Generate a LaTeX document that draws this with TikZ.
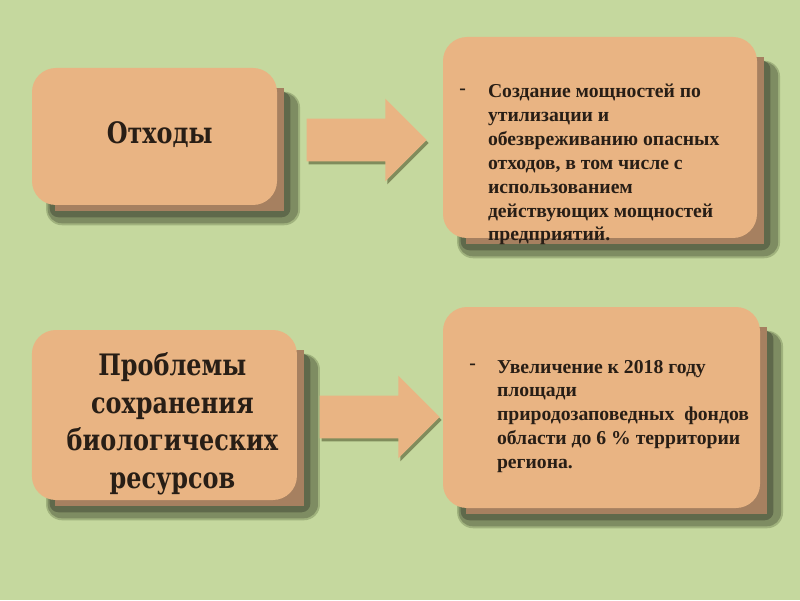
\documentclass[tikz,border=0pt]{standalone}
\usepackage{fontspec}
\setmainfont{Liberation Serif}
\newfontfamily\titlefont[FakeStretch=0.81]{DejaVu Serif}
\usetikzlibrary{shapes.arrows, positioning, calc, backgrounds, shadows}

\definecolor{bgGreen}{RGB}{197,216,158}
\definecolor{boxOrange}{RGB}{233,180,131}
\definecolor{boxBrown}{RGB}{166,128,96}
\definecolor{shadeDark}{RGB}{95,105,75}
\definecolor{shadeMid}{RGB}{126,140,98}
\definecolor{shadeLight}{RGB}{160,178,125}
\definecolor{arrowShade}{RGB}{128,140,92}
\definecolor{txtDark}{RGB}{40,30,22}

\tikzset{
  block/.style={fill=boxOrange, rounded corners=0.6cm, inner sep=0pt},
  title/.style={font=\titlefont\bfseries\fontsize{21}{26.7}\selectfont, text=txtDark, align=center},
  item/.style={font=\bfseries\fontsize{14}{17}\selectfont, text=txtDark, align=left, anchor=north west, inner sep=0pt},
  bullet/.style={font=\bfseries\fontsize{14}{17}\selectfont, text=txtDark, inner sep=0pt},
  bigarrow/.style={single arrow, fill=boxOrange, minimum height=3cm, inner xsep=0pt, inner ysep=0.525cm,
    single arrow head extend=0.5cm,
    drop shadow={shadow xshift=0.05cm, shadow yshift=-0.075cm, fill=arrowShade, opacity=1}}
}

\begin{document}
\begin{tikzpicture}
    \useasboundingbox (0,0) rectangle (20,15);

    % Left boxes
    \node[block, minimum width=6.125cm, minimum height=3.425cm] (otx) at (3.8625,11.5875) {};
    \node[title] (otxtxt) at ($(otx.center)+(0.13,0.05)$) {Отходы};
    \node[block, minimum width=6.625cm, minimum height=4.25cm] (probl) at (4.11,4.625) {};
    \node[title] (probltxt) at ($(probl.center)+(0.2,-0.22)$)
        {Проблемы\\сохранения\\биологических\\ресурсов};

    % Right boxes
    \node[block, minimum width=7.85cm, minimum height=5.025cm] (sozd) at (15,11.5625) {};
    \node[bullet] (sozdb) at ($(sozd.north west)+(0.5,-1.375)$) {-};
    \node[item] (sozdtxt) at ($(sozd.north west)+(1.125,-1.175)$)
        {Создание мощностей по\\утилизации и\\обезвреживанию опасных\\отходов, в том числе с\\использованием\\действующих мощностей\\предприятий.};

    \node[block, minimum width=7.925cm, minimum height=5.025cm] (uvel) at (15.0375,4.8125) {};
    \node[bullet] (uvelb) at ($(uvel.north west)+(0.75,-1.5)$) {-};
    \node[item] (uveltxt) at ($(uvel.north west)+(1.35,-1.325)$)
        {Увеличение к 2018 году\\площади\\природозаповедных\ \ фондов\\области до 6 \% территории\\региона.};

    % Arrows
    \node[bigarrow] (arr1) at (8.9,11.5) {};
    \node[bigarrow] (arr2) at (9.225,4.575) {};

    % Shadows and background
    \begin{scope}[on background layer]
        \fill[bgGreen] (0,0) rectangle (20,15);
        \foreach \b in {otx,sozd,probl,uvel} {
            \fill[shadeLight, rounded corners=0.4cm] ($(\b.south west)+(0.36,-0.5)$) rectangle ($(\b.north east)+(0.57,-0.6)$);
            \fill[shadeMid, rounded corners=0.35cm] ($(\b.south west)+(0.4,-0.45)$) rectangle ($(\b.north east)+(0.52,-0.63)$);
            \fill[shadeDark, rounded corners=0.22cm] ($(\b.south west)+(0.45,-0.3)$) rectangle ($(\b.north east)+(0.33,-0.6)$);
            \fill[boxBrown] ($(\b.south west)+(0.575,-0.14)$) rectangle ($(\b.north east)+(0.16,-0.5)$);
        }
    \end{scope}
\end{tikzpicture}
\end{document}
